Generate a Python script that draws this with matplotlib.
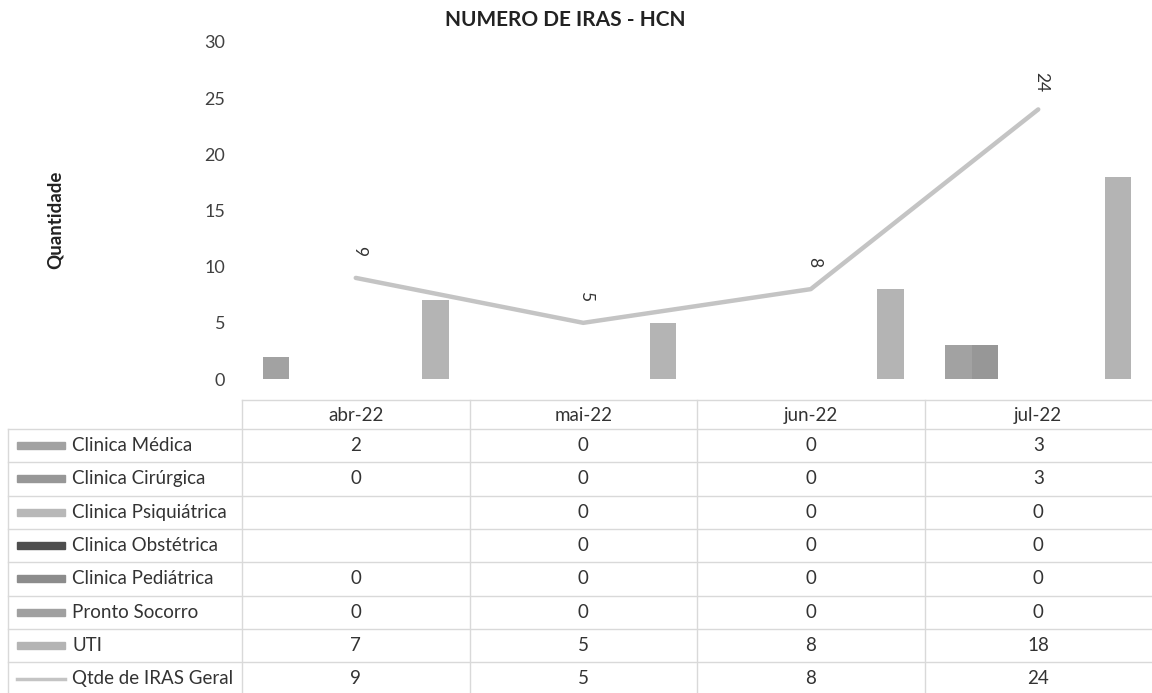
import matplotlib
matplotlib.use("Agg")
import matplotlib.pyplot as plt
import numpy as np
from matplotlib.lines import Line2D
from matplotlib.patches import Rectangle

# ---------------- data ----------------
months = ["abr-22", "mai-22", "jun-22", "jul-22"]
series_names = ["Clinica Médica", "Clinica Cirúrgica", "Clinica Psiquiátrica",
                "Clinica Obstétrica", "Clinica Pediátrica", "Pronto Socorro", "UTI"]
clinica_medica = [2, 0, 0, 3]
clinica_cirurgica = [0, 0, 0, 3]
clinica_psiquiatrica = [None, 0, 0, 0]
clinica_obstetrica = [None, 0, 0, 0]
clinica_pediatrica = [0, 0, 0, 0]
pronto_socorro = [0, 0, 0, 0]
uti = [7, 5, 8, 18]
line_name = "Qtde de IRAS Geral"
iras_geral = [9, 5, 8, 24]
title = "NUMERO DE IRAS - HCN"
ylabel = "Quantidade"

bar_series = [clinica_medica, clinica_cirurgica, clinica_psiquiatrica,
              clinica_obstetrica, clinica_pediatrica, pronto_socorro, uti]
bar_colors = ["#a2a2a2", "#979797", "#b8b8b8", "#4e4e4e", "#8c8c8c", "#a0a0a0", "#b4b4b4"]
line_color = "#c4c4c4"

# ---------------- figure ----------------
W, H = 1152, 693
plt.rcParams['font.family'] = ['Lato', 'DejaVu Sans']
fig = plt.figure(figsize=(W / 100, H / 100), dpi=100)
fig.patch.set_facecolor("white")

def fx(px):
    return px / W

def fy(py):
    return 1 - py / H

ax_left, ax_right, ax_top, ax_bottom = 242, 1152, 42, 379
ax = fig.add_axes([fx(ax_left), fy(ax_bottom), (ax_right - ax_left) / W, (ax_bottom - ax_top) / H])
ax.set_xlim(-0.5, len(months) - 0.5)
ax.set_ylim(0, 30)
ax.set_yticks(range(0, 31, 5))
ax.set_xticks([])
for s in ax.spines.values():
    s.set_visible(False)
ax.tick_params(axis='y', length=0, pad=12, labelsize=13, labelcolor="#404040")

x = np.arange(len(months))
bw = 0.1165
n = len(bar_series)
for i, (vals, col) in enumerate(zip(bar_series, bar_colors)):
    v = np.array([np.nan if a is None else a for a in vals], dtype=float)
    ax.bar(x + (i - (n - 1) / 2) * bw, v, width=bw, color=col, edgecolor="none", zorder=2)

ax.plot(x, iras_geral, color=line_color, lw=3.2, zorder=3, solid_capstyle="round")
for xi, v in zip(x, iras_geral):
    ax.annotate(str(v), (xi, v), xytext=(3, 27), textcoords="offset pixels",
                rotation=270, ha="center", va="center", fontsize=12.5, color="#333333")

# title and y label
fig.text(fx(565), fy(20), title, ha="center", va="center", fontsize=15,
         fontweight="bold", color="#222222")
fig.text(fx(55), fy(220), ylabel, ha="center", va="center", rotation=90,
         fontsize=13.5, fontweight="bold", color="#222222")

# ---------------- data table ----------------
grid_col = "#d9d9d9"
col_w = (ax_right - ax_left) / len(months)
col_edges = [ax_left + k * col_w for k in range(len(months) + 1)]
col_centers = [ax_left + (k + 0.5) * col_w for k in range(len(months))]
header_top, header_bottom = 400, 429
row_h = 33.3
n_rows = len(series_names) + 1
table_bottom = header_bottom + n_rows * row_h
left_edge = 8
fs = 13.5

def hline(y, x0, x1):
    fig.add_artist(Line2D([fx(x0), fx(x1)], [fy(y), fy(y)], color=grid_col, lw=1))

def vline(xp, y0, y1):
    fig.add_artist(Line2D([fx(xp), fx(xp)], [fy(y0), fy(y1)], color=grid_col, lw=1))

hline(header_top, ax_left, ax_right)
for r in range(n_rows + 1):
    hline(header_bottom + r * row_h, left_edge, ax_right)
vline(left_edge, header_bottom, table_bottom)
for k, xe in enumerate(col_edges[:-1]):
    vline(xe, header_top, table_bottom)

for m, cx in zip(months, col_centers):
    fig.text(fx(cx), fy((header_top + header_bottom) / 2 + 1), m, ha="center", va="center",
             fontsize=fs, color="#333333")

row_labels = series_names + [line_name]
row_values = bar_series + [iras_geral]
for r, (lab, vals) in enumerate(zip(row_labels, row_values)):
    cy = header_bottom + (r + 0.5) * row_h
    if r < len(series_names):
        fig.add_artist(Rectangle((fx(17), fy(cy + 3.5)), (65 - 17) / W, 7 / H,
                                 color=bar_colors[r], transform=fig.transFigure))
    else:
        fig.add_artist(Line2D([fx(17), fx(65)], [fy(cy), fy(cy)], color=line_color, lw=2.5))
    fig.text(fx(72), fy(cy), lab, ha="left", va="center", fontsize=fs, color="#333333")
    for v, cx in zip(vals, col_centers):
        if v is None:
            continue
        fig.text(fx(cx), fy(cy), str(v), ha="center", va="center", fontsize=fs, color="#333333")

fig.savefig("out.png", dpi=100, facecolor="white")
